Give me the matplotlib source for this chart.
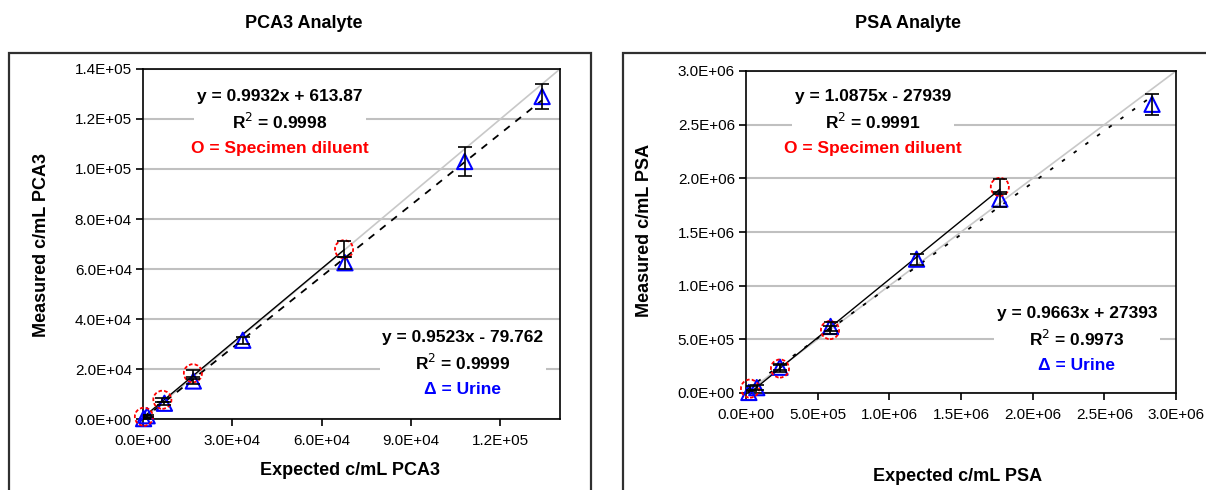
import numpy as np
import matplotlib
matplotlib.use('Agg')
import matplotlib.pyplot as plt
from matplotlib.patches import Rectangle
from matplotlib.ticker import FormatStrFormatter

plt.rcParams['font.family'] = ['Liberation Sans', 'DejaVu Sans']

# PCA3 panel
pca3_dil_x = [300, 6500, 16750, 67500]
pca3_dil_y = [900, 7700, 18300, 67900]
pca3_dil_err = [600, 900, 1300, 3200]
pca3_uri_x = [200, 1400, 7200, 16900, 33500, 67800, 108000, 134000]
pca3_uri_y = [150, 1300, 6300, 15200, 31500, 62500, 103000, 129000]
pca3_uri_err = [300, 400, 700, 1000, 1500, 2500, 5800, 5000]
pca3_fit_dil = (0.9932, 613.87)
pca3_fit_uri = (0.9523, -79.762)
pca3_text = ["y = 0.9932x + 613.87", "R$^2$ = 0.9998",
             "y = 0.9523x - 79.762", "R$^2$ = 0.9999"]

# PSA panel
psa_dil_x = [28000, 237000, 586000, 1771000]
psa_dil_y = [41000, 228000, 586000, 1920000]
psa_dil_err = [20000, 30000, 40000, 70000]
psa_uri_x = [20000, 75000, 237000, 590000, 1190000, 1771000, 2833000]
psa_uri_y = [5000, 50000, 240000, 620000, 1247000, 1807000, 2690000]
psa_uri_err = [20000, 20000, 30000, 40000, 50000, 70000, 100000]
psa_fit_dil = (1.0875, -27939)
psa_fit_uri = (0.9663, 27393)
psa_text = ["y = 1.0875x - 27939", "R$^2$ = 0.9991",
            "y = 0.9663x + 27393", "R$^2$ = 0.9973"]

W, H = 1206, 490
fig = plt.figure(figsize=(W / 100, H / 100), dpi=100)


def fx(px):
    return px / W


def fy(py):
    return 1 - py / H


def panel(box, axpos, lim, step, xstep, dil, uri, fits, texts, title, xlab, ylab,
          tpos, bpos, uri_ls):
    # outer chart border
    fig.patches.append(Rectangle((fx(box[0]), fy(box[3])), fx(box[2] - box[0]),
                                 fy(box[1]) - fy(box[3]), transform=fig.transFigure,
                                 fill=False, edgecolor='#303030', lw=1.6))
    l, t, r, b = axpos
    ax = fig.add_axes([fx(l), fy(b), fx(r - l), fy(t) - fy(b)])
    ax.set_xlim(0, lim)
    ax.set_ylim(0, lim)
    ax.set_xticks(np.arange(0, lim + 1, xstep))
    ax.set_yticks(np.arange(0, lim + 1, step))
    ax.xaxis.set_major_formatter(FormatStrFormatter('%.1E'))
    ax.yaxis.set_major_formatter(FormatStrFormatter('%.1E'))
    ax.tick_params(direction='out', length=5, width=1.2, labelsize=11, pad=3)
    ax.tick_params(axis='x', pad=6)
    for s in ax.spines.values():
        s.set_linewidth(1.2)
    ax.yaxis.grid(True, color='#c0c0c0', lw=1.5, zorder=0)
    ax.set_axisbelow(True)

    ax.plot([0, lim], [0, lim], color='#c8c8c8', lw=1.2, zorder=1)
    (dx, dy, de), (ux, uy, ue) = dil, uri
    xs = np.array([0, max(dx)])
    ax.plot(xs, fits[0][0] * xs + fits[0][1], color='black', lw=1.0, zorder=2)
    xs = np.array([0, max(ux)])
    ax.plot(xs, fits[1][0] * xs + fits[1][1], color='black', lw=1.3, ls=uri_ls, zorder=2)

    ax.errorbar(ux, uy, yerr=ue, fmt='none', ecolor='black', elinewidth=1.2,
                capsize=5, capthick=1.2, zorder=4)
    ax.errorbar(dx, dy, yerr=de, fmt='none', ecolor='black', elinewidth=1.2,
                capsize=5, capthick=1.2, zorder=4)
    ax.scatter(ux, uy, s=120, marker='^', facecolors='none', edgecolors='#0000ff',
               linewidths=1.5, zorder=3, clip_on=False)
    ax.scatter(dx, dy, s=170, marker='o', facecolors='none', edgecolors='#ff0000',
               linewidths=1.3, linestyles=(0, (2, 1.2)), zorder=3, clip_on=False)

    fs = 12.5
    tb = dict(facecolor='white', edgecolor='none', pad=2)
    ax.text(tpos[0], tpos[1], texts[0] + "\n" + texts[1], transform=fig.transFigure,
            ha='center', va='top', fontsize=fs, fontweight='bold', linespacing=1.45,
            bbox=tb, zorder=5)
    ax.text(tpos[0], tpos[1] - 52 / H, "O = Specimen diluent", transform=fig.transFigure,
            ha='center', va='top', fontsize=fs, fontweight='bold', color='#ff0000',
            bbox=tb, zorder=5)
    ax.text(bpos[0], bpos[1], texts[2] + "\n" + texts[3], transform=fig.transFigure,
            ha='center', va='top', fontsize=fs, fontweight='bold', linespacing=1.45,
            bbox=tb, zorder=5)
    ax.text(bpos[0], bpos[1] - 52 / H, "Δ = Urine", transform=fig.transFigure,
            ha='center', va='top', fontsize=fs, fontweight='bold', color='#0000ff',
            bbox=tb, zorder=5)

    fig.text(fx(title[1]), fy(title[2]), title[0], ha='center', va='center',
             fontsize=13, fontweight='bold')
    fig.text(fx(xlab[1]), fy(xlab[2]), xlab[0], ha='center', va='center',
             fontsize=13, fontweight='bold')
    fig.text(fx(ylab[1]), fy(ylab[2]), ylab[0], ha='center', va='center',
             fontsize=13, fontweight='bold', rotation=90)
    return ax


panel((9, 53, 591, 500), (143, 69, 560, 419), 1.4e5, 2e4, 3e4,
      (pca3_dil_x, pca3_dil_y, pca3_dil_err), (pca3_uri_x, pca3_uri_y, pca3_uri_err),
      (pca3_fit_dil, pca3_fit_uri), pca3_text,
      ("PCA3 Analyte", 304, 24), ("Expected c/mL PCA3", 350, 470),
      ("Measured c/mL PCA3", 42, 245),
      (fx(280), fy(89)), (fx(463), fy(330)), (0, (4, 4)))

panel((623, 53, 1215, 500), (746, 71, 1176, 393), 3e6, 5e5, 5e5,
      (psa_dil_x, psa_dil_y, psa_dil_err), (psa_uri_x, psa_uri_y, psa_uri_err),
      (psa_fit_dil, psa_fit_uri), psa_text,
      ("PSA Analyte", 908, 24), ("Expected c/mL PSA", 958, 476),
      ("Measured c/mL PSA", 645, 230),
      (fx(873), fy(89)), (fx(1077), fy(306)), (0, (2, 6)))

fig.savefig('out.png', dpi=100)
